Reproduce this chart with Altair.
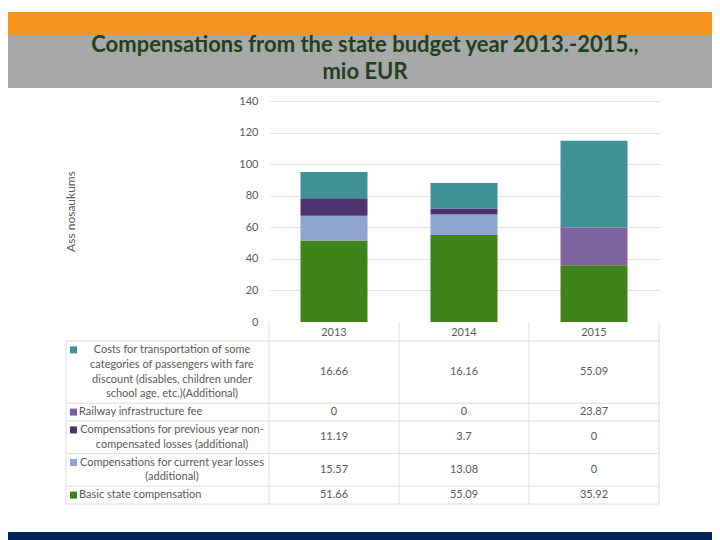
import altair as alt
import pandas as pd

# ---------------- data ----------------
years = ["2013", "2014", "2015"]
series_keys = ["basic", "current", "previous", "railway", "costs"]  # stack order, bottom -> top
basic = [51.66, 55.09, 35.92]
current = [15.57, 13.08, 0]
previous = [11.19, 3.7, 0]
railway = [0, 0, 23.87]
costs = [16.66, 16.16, 55.09]
series_values = {"basic": basic, "current": current, "previous": previous,
                 "railway": railway, "costs": costs}
series_colors = ["#3F841A", "#8EA5D3", "#4F336F", "#7E62A0", "#3F9197"]
label_lines = {
    "costs": [" Costs for transportation of some", "categories of passengers with fare",
              "discount (disables, children under", "school age, etc.)(Additional)"],
    "railway": ["Railway infrastructure fee"],
    "previous": ["Compensations for previous year non-", "compensated losses (additional)"],
    "current": ["Compensations for current year losses", "(additional)"],
    "basic": ["Basic state compensation"],
}
table_order = ["costs", "railway", "previous", "current", "basic"]  # top -> bottom
y_ticks = [0, 20, 40, 60, 80, 100, 120, 140]
title_lines = ["Compensations from the state budget year 2013.-2015.,", "mio EUR"]
y_title = "Ass nosaukums"

TXT = "#595959"
FONT = "Lato"

# ---------------- frames ----------------
bar_rows = []
for i, k in enumerate(series_keys):
    for y, v in zip(years, series_values[k]):
        bar_rows.append({"year": y, "key": k, "value": v, "order": i})
bars_df = pd.DataFrame(bar_rows)

# table layout (pixel rows derived from the number of text lines)
LINE_H = 14.8
ROW_PAD = 3.0
row_top = 240.0
cell_rows, line_rows_single, line_rows_multi, swatch_rows, boundaries = [], [], [], [], [row_top]
for k in table_order:
    lines = label_lines[k]
    h = LINE_H * len(lines) + ROW_PAD
    for j, t in enumerate(lines):
        yy = row_top + ROW_PAD / 2 + LINE_H * (j + 0.5)
        rec = {"key": k, "text": t, "y": yy}
        (line_rows_single if len(lines) == 1 else line_rows_multi).append(rec)
        if j == 0:
            swatch_rows.append({"key": k, "y": yy})
    for y, v in zip(years, series_values[k]):
        cell_rows.append({"year": y, "key": k, "text": f"{v:g}", "y": row_top + h / 2})
    row_top += h
    boundaries.append(row_top)
table_bottom = row_top

one = pd.DataFrame({"a": [0]})

color = alt.Color("key:N", scale=alt.Scale(domain=series_keys, range=series_colors), legend=None)
xenc = alt.X("year:N", sort=years,
             scale=alt.Scale(paddingInner=0.4846, paddingOuter=0.2423),
             axis=alt.Axis(title=None, labelAngle=0, labelPadding=4, domain=False, ticks=False,
                           grid=False, labelFontSize=11, labelColor=TXT, labelFont=FONT))

# ---------------- layers ----------------
header_orange = alt.Chart(one).mark_rect(color="#F7941D").encode(
    x=alt.value(-261), x2=alt.value(443), y=alt.value(-89), y2=alt.value(-66))
header_gray = alt.Chart(one).mark_rect(color="#A7A8AA").encode(
    x=alt.value(-261), x2=alt.value(443), y=alt.value(-66), y2=alt.value(-13))
title = alt.Chart(one).mark_text(font=FONT, fontSize=22, fontWeight="bold", color="#24401A",
                                 align="center", baseline="middle", lineBreak="\n",
                                 lineHeight=27).encode(
    x=alt.value(96), y=alt.value(-56), text=alt.value("\n".join(title_lines)))
footer = alt.Chart(one).mark_rect(color="#002458").encode(
    x=alt.value(-261), x2=alt.value(443), y=alt.value(431), y2=alt.value(439))

bars = alt.Chart(bars_df).mark_bar().encode(
    x=xenc,
    y=alt.Y("value:Q", stack="zero", scale=alt.Scale(domain=[0, 140], nice=False),
            axis=alt.Axis(values=y_ticks, title=y_title, orient="left", domain=False, ticks=False,
                          tickSize=0, labelPadding=11, labelFontSize=11, labelColor=TXT,
                          labelFont=FONT, grid=True, gridColor="#E2E2E2",
                          gridOpacity={"condition": {"test": "datum.value === 0", "value": 0}, "value": 1},
                          titleX=-199, titleY=110, titleAngle=270, titleAlign="center",
                          titleBaseline="middle", titleFontSize=12, titleFontWeight="normal",
                          titleColor=TXT, titleFont=FONT)),
    color=color,
    order=alt.Order("order:Q"),
)

hlines = alt.Chart(pd.DataFrame({"y": boundaries})).mark_rule(color="#DEDEDE", strokeWidth=1).encode(
    x=alt.value(-203), x2=alt.value(390), y=alt.Y("y:Q", scale=None))
vlines = [alt.Chart(one).mark_rule(color="#DEDEDE", strokeWidth=1).encode(
    x=alt.value(px), y=alt.value(221 if px >= 0 else 240), y2=alt.value(table_bottom))
    for px in [-203, 0, 130, 260, 390]]

cells = alt.Chart(pd.DataFrame(cell_rows)).mark_text(
    font=FONT, fontSize=11, color=TXT, align="center", baseline="middle").encode(
    x=alt.X("year:N", sort=years), y=alt.Y("y:Q", scale=None), text="text:N")
lab_single = alt.Chart(pd.DataFrame(line_rows_single)).mark_text(
    font=FONT, fontSize=11, color=TXT, align="left", baseline="middle").encode(
    x=alt.value(-190), y=alt.Y("y:Q", scale=None), text="text:N")
lab_multi = alt.Chart(pd.DataFrame(line_rows_multi)).mark_text(
    font=FONT, fontSize=11, color=TXT, align="center", baseline="middle").encode(
    x=alt.value(-97), y=alt.Y("y:Q", scale=None), text="text:N")
swatches = alt.Chart(pd.DataFrame(swatch_rows)).mark_square(size=49, opacity=1).encode(
    x=alt.value(-195.5), y=alt.Y("y:Q", scale=None), color=color)

chart = alt.layer(
    header_orange, header_gray, title, footer, bars, hlines, *vlines,
    cells, lab_single, lab_multi, swatches,
).resolve_scale(y="independent").properties(
    width=390, height=221,
    padding={"left": 261, "top": 93, "right": 53, "bottom": 218},
    autosize=alt.AutoSizeParams(type="none"),
    background="white",
).configure_view(strokeWidth=0)

chart.save("out.html", embed_options={"renderer": "svg", "actions": False})
